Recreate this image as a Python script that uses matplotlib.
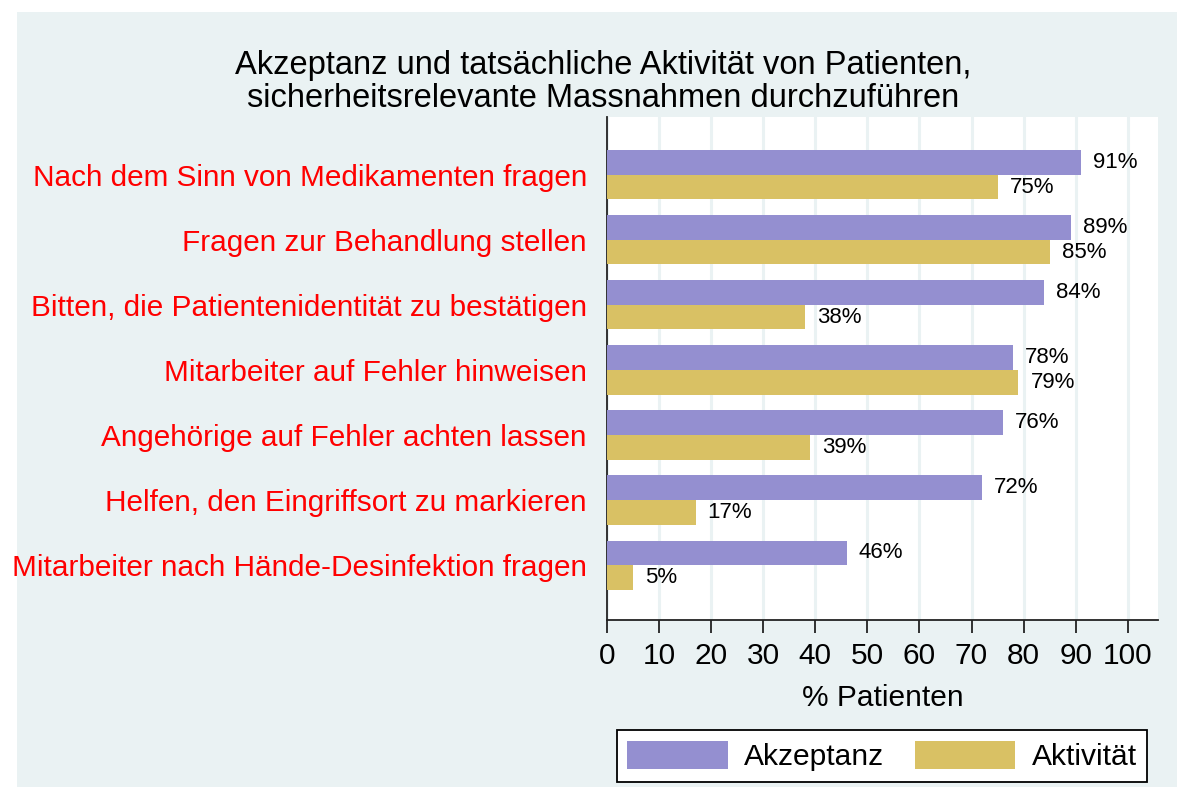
import matplotlib
matplotlib.use("Agg")
import matplotlib.pyplot as plt
from matplotlib.patches import Rectangle, Patch
import numpy as np

plt.rcParams['font.family'] = ['Liberation Sans', 'DejaVu Sans']

categories = [
    "Nach dem Sinn von Medikamenten fragen",
    "Fragen zur Behandlung stellen",
    "Bitten, die Patientenidentität zu bestätigen",
    "Mitarbeiter auf Fehler hinweisen",
    "Angehörige auf Fehler achten lassen",
    "Helfen, den Eingriffsort zu markieren",
    "Mitarbeiter nach Hände-Desinfektion fragen",
]
akzeptanz = [91, 89, 84, 78, 76, 72, 46]
aktivitaet = [75, 85, 38, 79, 39, 17, 5]
series_names = ["Akzeptanz", "Aktivität"]
xticks = list(range(0, 101, 10))
title_lines = ["Akzeptanz und tatsächliche Aktivität von Patienten,",
               "sicherheitsrelevante Massnahmen durchzuführen"]
xlabel = "% Patienten"

C_PURPLE = "#948FD0"
C_GOLD = "#D9C164"
C_BG = "#EAF2F3"

W, H = 1177, 787
fig = plt.figure(figsize=(W / 100, H / 100), dpi=100)
fig.patch.set_facecolor("white")
# outer light background
fig.patches.append(Rectangle((17 / W, 0), (W - 17) / W, (H - 12) / H,
                             transform=fig.transFigure, facecolor=C_BG,
                             edgecolor="none", zorder=-10))

ax = fig.add_axes([607 / W, (H - 620) / H, (1158 - 607) / W, (620 - 117) / H])
ax.set_facecolor("white")

y = np.arange(len(categories))
bh = 0.377
b1 = ax.barh(y - bh / 2, akzeptanz, height=bh, color=C_PURPLE, zorder=3)
b2 = ax.barh(y + bh / 2, aktivitaet, height=bh, color=C_GOLD, zorder=3)

for rects, vals in ((b1, akzeptanz), (b2, aktivitaet)):
    for r, v in zip(rects, vals):
        ax.annotate(f"{v}%", xy=(r.get_width(), r.get_y() + r.get_height() / 2),
                    xytext=(12, 0), textcoords="offset pixels",
                    ha="left", va="center", fontsize=16, color="black", zorder=4)

ax.set_xlim(0, 105.8)
ax.set_ylim(len(categories) - 1 + 0.846, -0.892)

ax.set_xticks(xticks)
ax.set_xticklabels([str(t) for t in xticks], fontsize=21.5)
ax.tick_params(axis="x", length=9, width=1.3, color="#222222", pad=7)
ax.set_yticks(y)
ax.set_yticklabels(categories, fontsize=21.45, color="#FF0000")
ax.tick_params(axis="y", length=0, pad=14.5)

ax.grid(axis="x", color=C_BG, linewidth=2.2, zorder=0)
ax.set_axisbelow(True)

for s in ("top", "right"):
    ax.spines[s].set_visible(False)
for s in ("left", "bottom"):
    ax.spines[s].set_color("#222222")
    ax.spines[s].set_linewidth(1.3)

ax.set_xlabel(xlabel, fontsize=21.5, labelpad=10)

fig.text(603.5 / W, 1 - 74 / H, title_lines[0], ha="center", va="baseline", fontsize=23.5)
fig.text(603.5 / W, 1 - 107 / H, title_lines[1], ha="center", va="baseline", fontsize=23.5)

handles = [Patch(facecolor=C_PURPLE, edgecolor="none"),
           Patch(facecolor=C_GOLD, edgecolor="none")]
leg = fig.legend(handles, series_names, loc="center",
                 bbox_to_anchor=(882 / W, 1 - 756 / H), ncol=2, fontsize=21.6,
                 handlelength=3.35, handleheight=1.05, handletextpad=0.55,
                 columnspacing=1.0, borderpad=0.35, fancybox=False,
                 frameon=True, edgecolor="black", facecolor="white",
                 framealpha=1)
leg.get_frame().set_linewidth(1.3)

fig.savefig("out.png", dpi=100, facecolor=fig.get_facecolor())
